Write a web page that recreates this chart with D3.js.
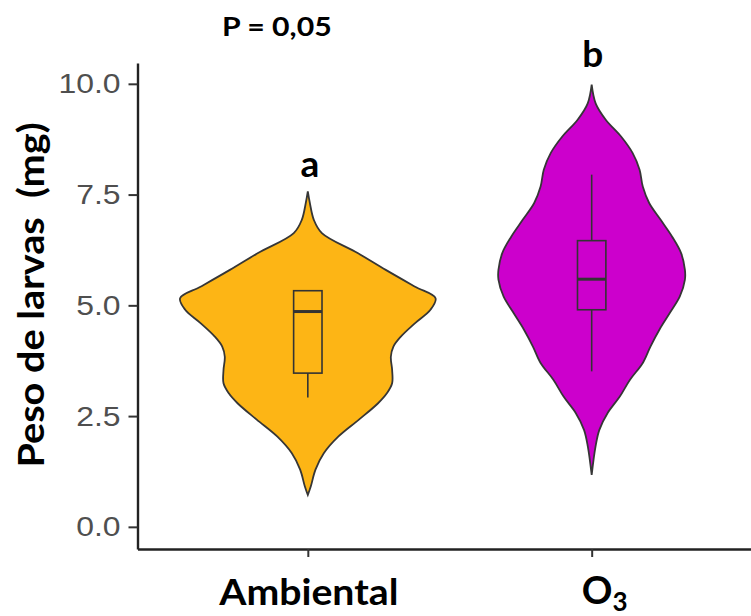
<!DOCTYPE html>
<html><head><meta charset="utf-8">
<script src="https://cdn.jsdelivr.net/npm/d3@7/dist/d3.min.js"></script>
<style>
html,body{margin:0;padding:0;background:#fff;}
svg{display:block;}
</style></head>
<body>
<script>
// ---- data ----
const categories = ["Ambiental", "O3"];
const fillColors = ["#FDB515", "#CC00CC"];
const yTicks = [0, 2.5, 5, 7.5, 10];

// violin outlines: value (mg) and relative density (half width)
const ambientalValues  = [7.57, 7.31, 6.93, 6.63, 6.18, 5.80, 5.42, 5.16, 4.90, 4.60, 4.30, 4.07, 3.84, 3.54, 3.24, 3.02, 2.79, 2.42, 2.04, 1.66, 1.29, 0.91, 0.72];
const ambientalDensity = [0.00, 0.016, 0.047, 0.11, 0.39, 0.61, 0.84, 1.00, 0.96, 0.84, 0.73, 0.67, 0.65, 0.66, 0.66, 0.62, 0.55, 0.40, 0.24, 0.125, 0.06, 0.023, 0.00];
const o3Values  = [9.98, 9.56, 9.19, 8.81, 8.44, 8.06, 7.68, 7.31, 6.93, 6.55, 6.18, 5.80, 5.58, 5.20, 4.82, 4.45, 4.07, 3.70, 3.32, 2.94, 2.57, 2.19, 1.81, 1.17];
const o3Density = [0.00, 0.031, 0.11, 0.23, 0.32, 0.375, 0.40, 0.45, 0.54, 0.63, 0.70, 0.73, 0.73, 0.69, 0.61, 0.53, 0.46, 0.40, 0.30, 0.22, 0.125, 0.06, 0.03, 0.00];

// box plot statistics
const q1 = [3.47, 4.90];
const medians = [4.86, 5.59];
const q3 = [5.33, 6.46];
const whiskerLow = [2.92, 3.51];
const whiskerHigh = [5.33, 7.95];

// significance letters
const letters = ["a", "b"];
const letterY = [7.9, 10.38];
const pLabel = "P = 0,05";
const yTitle = "Peso de larvas  (mg)";

// ---- drawing ----
const W = 751, H = 616;
const svg = d3.select("body").append("svg").attr("width", W).attr("height", H);

const x = d3.scalePoint().domain(categories).range([137.5, 762]).padding(0.6);
const y = d3.scaleLinear().domain([-0.5, 10.47]).range([549, 63]);
const wScale = d3.scaleLinear().domain([0, 1]).range([0, x.step() * 0.45]);
const boxW = x.step() * 0.1;

const violins = [
  d3.zip(ambientalValues, ambientalDensity),
  d3.zip(o3Values, o3Density)
];

const boldFont = "Lato, 'Open Sans', sans-serif";

categories.forEach((c, i) => {
  const cx = x(c);
  const area = d3.area()
    .curve(d3.curveCatmullRom.alpha(0.5))
    .y(d => y(d[0]))
    .x0(d => cx - wScale(d[1]))
    .x1(d => cx + wScale(d[1]));
  svg.append("path")
    .datum(violins[i])
    .attr("d", area)
    .attr("fill", fillColors[i])
    .attr("stroke", "#363636")
    .attr("stroke-width", 1.8);

  const g = svg.append("g").attr("stroke", "#333").attr("fill", "none");
  if (whiskerHigh[i] > q3[i]) {
    g.append("line").attr("x1", cx).attr("x2", cx).attr("y1", y(q3[i])).attr("y2", y(whiskerHigh[i])).attr("stroke-width", 1.6);
  }
  if (whiskerLow[i] < q1[i]) {
    g.append("line").attr("x1", cx).attr("x2", cx).attr("y1", y(q1[i])).attr("y2", y(whiskerLow[i])).attr("stroke-width", 1.6);
  }
  g.append("rect")
    .attr("x", cx - boxW / 2).attr("width", boxW)
    .attr("y", y(q3[i])).attr("height", y(q1[i]) - y(q3[i]))
    .attr("stroke-width", 1.6);
  g.append("line")
    .attr("x1", cx - boxW / 2).attr("x2", cx + boxW / 2)
    .attr("y1", y(medians[i])).attr("y2", y(medians[i]))
    .attr("stroke-width", 3);

  svg.append("text")
    .attr("x", cx + (i === 0 ? 2 : 1)).attr("y", y(letterY[i]))
    .attr("text-anchor", "middle")
    .attr("font-family", boldFont)
    .attr("font-weight", "bold")
    .attr("font-size", 37)
    .attr("fill", "#000")
    .text(letters[i]);
});

// y axis
const yAxis = svg.append("g")
  .attr("transform", "translate(137.5,0)")
  .call(d3.axisLeft(y).tickValues(yTicks).tickFormat(d3.format(".1f")).tickSize(9).tickSizeOuter(0).tickPadding(8));
yAxis.select(".domain").attr("stroke", "#222").attr("stroke-width", 2.4);
yAxis.selectAll(".tick line").attr("stroke", "#333").attr("stroke-width", 2);
yAxis.selectAll(".tick text")
  .attr("font-family", "'Liberation Sans', Arial, sans-serif")
  .attr("font-size", 28)
  .attr("fill", "#4f4f4f")
  .attr("transform", "translate(-17,0) scale(1.14,1) translate(17,0)");

// x axis
const xAxis = svg.append("g")
  .attr("transform", "translate(0,549)")
  .call(d3.axisBottom(x).tickSize(8).tickSizeOuter(0).tickFormat(""));
xAxis.select(".domain").attr("stroke", "#222").attr("stroke-width", 2.4);
xAxis.selectAll(".tick line").attr("stroke", "#333").attr("stroke-width", 2);

const xl = svg.append("g")
  .attr("font-family", boldFont)
  .attr("font-weight", "bold")
  .attr("fill", "#000");
const ax = x("Ambiental") + 1;
xl.append("text").attr("x", ax).attr("y", 605)
  .attr("transform", `translate(${ax},0) scale(1.06,1) translate(${-ax},0)`)
  .attr("text-anchor", "middle").attr("font-size", 37).text("Ambiental");
const o3t = xl.append("text").attr("x", x("O3") - 10).attr("y", 604)
  .attr("text-anchor", "start").attr("font-size", 38);
o3t.append("tspan").text("O");
o3t.append("tspan").attr("font-size", 26).attr("dy", 7).text("3");

// y title
svg.append("text")
  .attr("transform", "translate(44,295) rotate(-90) scale(1.07,1)")
  .attr("text-anchor", "middle")
  .attr("font-family", boldFont)
  .attr("font-weight", "bold")
  .attr("font-size", 37)
  .attr("fill", "#000")
  .attr("xml:space", "preserve")
  .style("white-space", "pre")
  .text(yTitle);

// P label
svg.append("text")
  .attr("x", 222).attr("y", 36.5)
  .attr("transform", "translate(222,0) scale(1.12,1) translate(-222,0)")
  .attr("font-family", boldFont)
  .attr("font-weight", "bold")
  .attr("font-size", 27)
  .attr("fill", "#000")
  .text(pLabel);
</script>
</body></html>
